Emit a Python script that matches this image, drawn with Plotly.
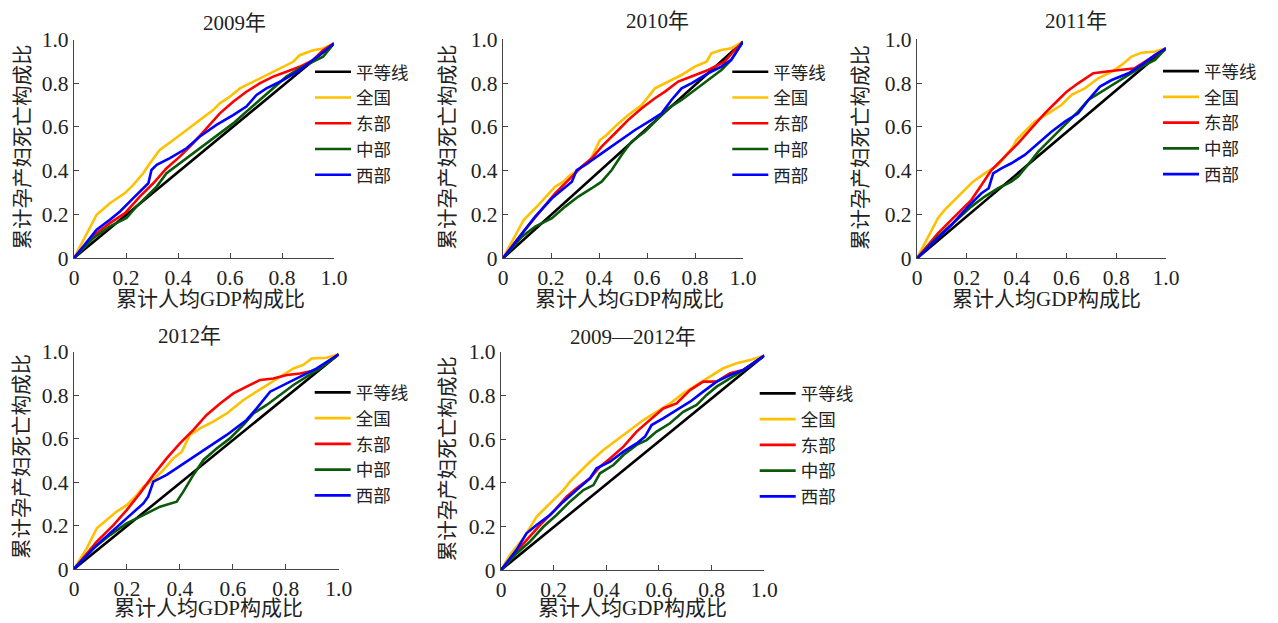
import plotly.graph_objects as go

W, H = 1278, 623

# ---------------- data ----------------
series_names = ["平等线", "全国", "东部", "中部", "西部"]
panel_titles = ["2009年", "2010年", "2011年", "2012年", "2009—2012年"]
tick_vals = [0, 0.2, 0.4, 0.6, 0.8, 1.0]
tick_text = ["0", "0.2", "0.4", "0.6", "0.8", "1.0"]
x_label = "累计人均GDP构成比"
y_label = "累计孕产妇死亡构成比"

# 2009
eq_x_2009 = [0, 1.0]
eq_y_2009 = [0, 0.982]
nat_x_2009 = [0, 0.087, 0.138, 0.196, 0.228, 0.266, 0.292, 0.330, 0.382, 0.433, 0.484, 0.535, 0.561, 0.599, 0.638, 0.689, 0.740, 0.804, 0.843, 0.868, 0.919, 0.958, 1.0]
nat_y_2009 = [0, 0.198, 0.251, 0.297, 0.335, 0.388, 0.434, 0.495, 0.540, 0.586, 0.632, 0.677, 0.708, 0.738, 0.776, 0.807, 0.837, 0.875, 0.898, 0.928, 0.951, 0.959, 0.982]
east_x_2009 = [0, 0.087, 0.138, 0.196, 0.254, 0.305, 0.356, 0.407, 0.458, 0.510, 0.561, 0.612, 0.663, 0.714, 0.766, 0.817, 0.868, 0.919, 0.958, 1.0]
east_y_2009 = [0, 0.114, 0.160, 0.205, 0.282, 0.342, 0.411, 0.464, 0.525, 0.594, 0.662, 0.715, 0.761, 0.799, 0.830, 0.852, 0.875, 0.906, 0.951, 0.982]
mid_x_2009 = [0, 0.074, 0.138, 0.202, 0.241, 0.279, 0.318, 0.356, 0.407, 0.458, 0.510, 0.561, 0.612, 0.663, 0.714, 0.766, 0.817, 0.868, 0.919, 0.958, 1.0]
mid_y_2009 = [0, 0.091, 0.145, 0.183, 0.236, 0.282, 0.327, 0.388, 0.434, 0.479, 0.525, 0.571, 0.616, 0.670, 0.723, 0.776, 0.830, 0.868, 0.898, 0.921, 0.982]
west_x_2009 = [0, 0.087, 0.138, 0.177, 0.228, 0.286, 0.298, 0.318, 0.369, 0.433, 0.484, 0.548, 0.612, 0.663, 0.702, 0.740, 0.804, 0.868, 0.919, 1.0]
west_y_2009 = [0, 0.129, 0.175, 0.213, 0.274, 0.342, 0.403, 0.426, 0.457, 0.502, 0.556, 0.609, 0.654, 0.693, 0.746, 0.776, 0.814, 0.860, 0.906, 0.982]

# 2010
eq_x_2010 = [0, 1.0]
eq_y_2010 = [0, 0.989]
nat_x_2010 = [0, 0.086, 0.148, 0.217, 0.252, 0.273, 0.321, 0.356, 0.377, 0.404, 0.432, 0.474, 0.522, 0.578, 0.633, 0.688, 0.744, 0.799, 0.848, 0.868, 0.910, 0.951, 1.0]
nat_y_2010 = [0, 0.175, 0.244, 0.327, 0.350, 0.373, 0.411, 0.434, 0.479, 0.540, 0.563, 0.609, 0.654, 0.700, 0.776, 0.807, 0.837, 0.875, 0.898, 0.936, 0.951, 0.959, 0.989]
east_x_2010 = [0, 0.079, 0.148, 0.217, 0.287, 0.328, 0.370, 0.411, 0.467, 0.522, 0.578, 0.633, 0.675, 0.730, 0.785, 0.855, 0.924, 0.965, 1.0]
east_y_2010 = [0, 0.114, 0.205, 0.297, 0.373, 0.419, 0.457, 0.510, 0.571, 0.632, 0.685, 0.731, 0.761, 0.807, 0.830, 0.860, 0.898, 0.951, 0.989]
mid_x_2010 = [0, 0.079, 0.134, 0.204, 0.259, 0.314, 0.370, 0.411, 0.453, 0.494, 0.536, 0.591, 0.647, 0.688, 0.744, 0.799, 0.855, 0.910, 0.951, 1.0]
mid_y_2010 = [0, 0.099, 0.145, 0.183, 0.236, 0.282, 0.320, 0.350, 0.403, 0.472, 0.533, 0.578, 0.639, 0.685, 0.723, 0.769, 0.814, 0.860, 0.906, 0.989]
west_x_2010 = [0, 0.079, 0.134, 0.204, 0.287, 0.307, 0.342, 0.411, 0.481, 0.550, 0.619, 0.661, 0.702, 0.744, 0.785, 0.855, 0.910, 0.951, 1.0]
west_y_2010 = [0, 0.114, 0.190, 0.274, 0.350, 0.403, 0.426, 0.479, 0.533, 0.586, 0.632, 0.662, 0.723, 0.776, 0.799, 0.845, 0.875, 0.906, 0.989]

# 2011
eq_x_2011 = [0, 1.0]
eq_y_2011 = [0, 0.959]
nat_x_2011 = [0, 0.084, 0.111, 0.151, 0.192, 0.225, 0.272, 0.326, 0.353, 0.386, 0.399, 0.433, 0.473, 0.527, 0.580, 0.621, 0.674, 0.728, 0.782, 0.822, 0.862, 0.902, 0.956, 1.0]
nat_y_2011 = [0, 0.183, 0.221, 0.266, 0.312, 0.350, 0.388, 0.426, 0.464, 0.510, 0.540, 0.578, 0.624, 0.662, 0.700, 0.746, 0.776, 0.822, 0.852, 0.883, 0.921, 0.939, 0.944, 0.959]
east_x_2011 = [0, 0.084, 0.151, 0.218, 0.259, 0.299, 0.353, 0.406, 0.460, 0.513, 0.567, 0.601, 0.647, 0.708, 0.755, 0.808, 0.875, 0.916, 1.0]
east_y_2011 = [0, 0.114, 0.190, 0.266, 0.335, 0.403, 0.464, 0.525, 0.594, 0.662, 0.723, 0.761, 0.799, 0.845, 0.852, 0.860, 0.868, 0.898, 0.959]
mid_x_2011 = [0, 0.084, 0.151, 0.218, 0.272, 0.326, 0.379, 0.406, 0.440, 0.487, 0.540, 0.594, 0.647, 0.688, 0.741, 0.795, 0.849, 0.903, 0.956, 1.0]
mid_y_2011 = [0, 0.099, 0.167, 0.236, 0.282, 0.320, 0.350, 0.373, 0.419, 0.487, 0.548, 0.609, 0.670, 0.723, 0.761, 0.799, 0.837, 0.875, 0.906, 0.959]
west_x_2011 = [0, 0.071, 0.138, 0.205, 0.259, 0.288, 0.306, 0.339, 0.379, 0.433, 0.487, 0.540, 0.594, 0.647, 0.694, 0.735, 0.782, 0.849, 0.902, 0.956, 1.0]
west_y_2011 = [0, 0.076, 0.152, 0.236, 0.297, 0.320, 0.388, 0.411, 0.434, 0.472, 0.525, 0.578, 0.624, 0.662, 0.731, 0.784, 0.814, 0.845, 0.883, 0.929, 0.959]

# 2012
eq_x_2012 = [0, 1.0]
eq_y_2012 = [0, 0.988]
nat_x_2012 = [0, 0.048, 0.086, 0.123, 0.161, 0.199, 0.237, 0.262, 0.300, 0.338, 0.375, 0.407, 0.438, 0.476, 0.526, 0.577, 0.602, 0.640, 0.690, 0.741, 0.791, 0.829, 0.866, 0.898, 0.955, 1.0]
nat_y_2012 = [0, 0.095, 0.187, 0.225, 0.264, 0.294, 0.340, 0.379, 0.410, 0.456, 0.509, 0.540, 0.617, 0.647, 0.678, 0.716, 0.739, 0.778, 0.816, 0.854, 0.893, 0.923, 0.939, 0.969, 0.972, 0.988]
east_x_2012 = [0, 0.086, 0.149, 0.199, 0.249, 0.300, 0.350, 0.400, 0.451, 0.501, 0.552, 0.602, 0.652, 0.703, 0.753, 0.804, 0.854, 0.917, 1.0]
east_y_2012 = [0, 0.126, 0.202, 0.271, 0.348, 0.433, 0.509, 0.578, 0.640, 0.709, 0.762, 0.808, 0.839, 0.870, 0.877, 0.893, 0.900, 0.916, 0.988]
mid_x_2012 = [0, 0.073, 0.136, 0.199, 0.262, 0.325, 0.388, 0.413, 0.451, 0.489, 0.539, 0.589, 0.640, 0.678, 0.728, 0.778, 0.829, 0.879, 0.929, 1.0]
mid_y_2012 = [0, 0.095, 0.156, 0.210, 0.248, 0.287, 0.310, 0.356, 0.433, 0.502, 0.555, 0.601, 0.663, 0.716, 0.755, 0.801, 0.847, 0.885, 0.923, 0.988]
west_x_2012 = [0, 0.086, 0.149, 0.212, 0.262, 0.280, 0.300, 0.350, 0.426, 0.501, 0.577, 0.652, 0.690, 0.741, 0.791, 0.854, 0.917, 1.0]
west_y_2012 = [0, 0.110, 0.179, 0.248, 0.302, 0.333, 0.402, 0.433, 0.494, 0.555, 0.617, 0.686, 0.739, 0.816, 0.847, 0.885, 0.923, 0.988]

# 2009-2012
eq_x_all = [0, 1.0]
eq_y_all = [0, 0.982]
nat_x_all = [0, 0.034, 0.085, 0.135, 0.186, 0.237, 0.262, 0.300, 0.338, 0.389, 0.439, 0.490, 0.541, 0.591, 0.642, 0.692, 0.743, 0.794, 0.844, 0.895, 0.946, 1.0]
nat_y_all = [0, 0.069, 0.145, 0.244, 0.305, 0.366, 0.405, 0.450, 0.496, 0.550, 0.595, 0.641, 0.687, 0.725, 0.763, 0.809, 0.847, 0.885, 0.924, 0.947, 0.962, 0.982]
east_x_all = [0, 0.047, 0.097, 0.148, 0.199, 0.249, 0.287, 0.338, 0.376, 0.414, 0.465, 0.515, 0.566, 0.616, 0.667, 0.718, 0.768, 0.819, 0.870, 0.920, 1.0]
east_y_all = [0, 0.069, 0.137, 0.206, 0.267, 0.336, 0.374, 0.420, 0.473, 0.511, 0.565, 0.634, 0.687, 0.740, 0.763, 0.824, 0.863, 0.863, 0.901, 0.916, 0.982]
mid_x_all = [0, 0.059, 0.110, 0.161, 0.211, 0.262, 0.313, 0.351, 0.376, 0.427, 0.465, 0.515, 0.553, 0.591, 0.642, 0.692, 0.743, 0.781, 0.819, 0.870, 0.920, 1.0]
mid_y_all = [0, 0.076, 0.130, 0.198, 0.252, 0.313, 0.366, 0.389, 0.443, 0.481, 0.527, 0.573, 0.595, 0.634, 0.672, 0.725, 0.756, 0.802, 0.840, 0.878, 0.916, 0.982]
west_x_all = [0, 0.059, 0.097, 0.135, 0.186, 0.237, 0.287, 0.338, 0.363, 0.414, 0.465, 0.515, 0.547, 0.572, 0.616, 0.667, 0.718, 0.768, 0.819, 0.870, 0.920, 1.0]
west_y_all = [0, 0.092, 0.168, 0.206, 0.252, 0.313, 0.366, 0.420, 0.466, 0.496, 0.542, 0.580, 0.611, 0.664, 0.695, 0.733, 0.771, 0.817, 0.863, 0.893, 0.916, 0.982]

panels_data = [
    [(eq_x_2009, eq_y_2009), (nat_x_2009, nat_y_2009), (east_x_2009, east_y_2009), (mid_x_2009, mid_y_2009), (west_x_2009, west_y_2009)],
    [(eq_x_2010, eq_y_2010), (nat_x_2010, nat_y_2010), (east_x_2010, east_y_2010), (mid_x_2010, mid_y_2010), (west_x_2010, west_y_2010)],
    [(eq_x_2011, eq_y_2011), (nat_x_2011, nat_y_2011), (east_x_2011, east_y_2011), (mid_x_2011, mid_y_2011), (west_x_2011, west_y_2011)],
    [(eq_x_2012, eq_y_2012), (nat_x_2012, nat_y_2012), (east_x_2012, east_y_2012), (mid_x_2012, mid_y_2012), (west_x_2012, west_y_2012)],
    [(eq_x_all, eq_y_all), (nat_x_all, nat_y_all), (east_x_all, east_y_all), (mid_x_all, mid_y_all), (west_x_all, west_y_all)],
]

# ---------------- styling / layout ----------------
colors = ["#000000", "#FFC000", "#FF0000", "#0B5A0B", "#0000FF"]
draw_order = [0, 1, 2, 3, 4]

FONT = "Liberation Serif, Noto Sans CJK SC, serif"
TXT = "#222222"

# pixel boxes of each plot area: (x0, x1, ytop, ybottom)
boxes = [
    (74, 334, 39.5, 258),
    (503, 743, 39.3, 258.3),
    (917, 1166, 39.3, 258.3),
    (74, 338.7, 351.7, 569),
    (501, 764.3, 351.7, 570),
]
title_pos = [(234, 22.7), (657.5, 20.5), (1076, 20.5), (189, 335.7), (632.5, 336.7)]
xlab_pos = [(210, 299.5), (629, 299.2), (1046, 299), (208.3, 608), (632.5, 608)]
ylab_pos = [(22.5, 147), (447.5, 147), (861, 147), (22, 457), (448.3, 459)]
legend_pos = [(317, 72.7), (734.3, 72.7), (1165, 72), (316.7, 393.3), (761.7, 394.3)]

def px(x):
    return x / W

def py(y):
    return 1 - y / H

fig = go.Figure()
annotations = []
layout = {}

LEG_FS = 17.5

for i in range(5):
    ax = "" if i == 0 else str(i + 1)
    leg = "legend" if i == 0 else "legend%d" % (i + 1)
    for s in draw_order:
        xs, ys = panels_data[i][s]
        fig.add_trace(go.Scatter(
            x=xs, y=ys, mode="lines", name=series_names[s],
            line=dict(color=colors[s], width=2.6),
            xaxis="x" + ax, yaxis="y" + ax, legend=leg,
            showlegend=True,
        ))
    x0, x1, yt, yb = boxes[i]
    common = dict(
        showline=True, linecolor="#444444", linewidth=1.2,
        ticks="inside", ticklen=5, tickwidth=1.2, tickcolor="#444444",
        tickvals=tick_vals, ticktext=tick_text, range=[0, 1.0],
        showgrid=False, zeroline=False, automargin=False,
        tickfont=dict(family=FONT, size=21.5, color=TXT),
        fixedrange=True,
    )
    layout["xaxis" + ax] = dict(common, domain=[px(x0), px(x1)], anchor="y" + ax)
    layout["yaxis" + ax] = dict(common, domain=[py(yb), py(yt)], anchor="x" + ax)

    lx, ly = legend_pos[i]
    layout[leg] = dict(
        x=px(lx - 7), y=py(ly - 18.8), xanchor="left", yanchor="top",
        bgcolor="rgba(0,0,0,0)", borderwidth=0, tracegroupgap=0,
        font=dict(family=FONT, size=LEG_FS, color=TXT), itemwidth=36,
    )

    tx, ty = title_pos[i]
    annotations.append(dict(text=panel_titles[i], x=px(tx), y=py(ty), xref="paper", yref="paper",
                            xanchor="center", yanchor="middle", showarrow=False,
                            font=dict(family=FONT, size=21, color=TXT)))
    ax_, ay_ = xlab_pos[i]
    annotations.append(dict(text=x_label, x=px(ax_), y=py(ay_), xref="paper", yref="paper",
                            xanchor="center", yanchor="middle", showarrow=False,
                            font=dict(family=FONT, size=21, color=TXT)))
    bx, by = ylab_pos[i]
    annotations.append(dict(text=y_label, x=px(bx), y=py(by), xref="paper", yref="paper",
                            xanchor="center", yanchor="middle", showarrow=False, textangle=-90,
                            font=dict(family=FONT, size=20.5, color=TXT)))

fig.update_layout(
    width=W, height=H, margin=dict(l=0, r=0, t=0, b=0, pad=0, autoexpand=False),
    paper_bgcolor="white", plot_bgcolor="white",
    annotations=annotations,
    **layout,
)

fig.write_html(
    "out.html",
    config={"displayModeBar": False},
    post_script="document.body.style.margin='0px';document.body.style.padding='0px';document.body.style.overflow='hidden';",
)
